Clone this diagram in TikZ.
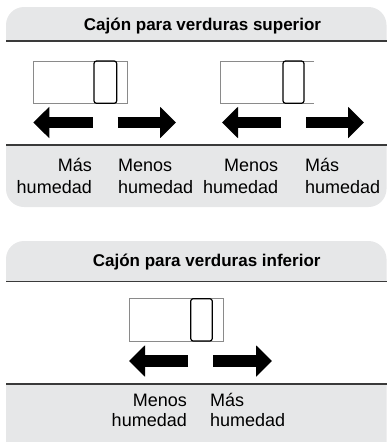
\documentclass[tikz,border=0pt]{standalone}
\usepackage{fontspec}
\setmainfont{Liberation Sans}
\usetikzlibrary{arrows.meta}
\definecolor{panelgris}{HTML}{E6E7E8}
\definecolor{lineagris}{HTML}{3A3A3A}
\definecolor{bordegris}{HTML}{8A8A8A}
\tikzset{
  panel/.style={fill=panelgris,rounded corners=18pt},
  sep/.style={draw=lineagris,line width=1.1pt},
  cajon/.style={draw=bordegris,line width=0.7pt,fill=white},
  perilla/.style={draw=black,line width=1.2pt,rounded corners=2.5pt},
  flecha/.style={draw=black,line width=11.5pt,-{Triangle[length=16pt,width=30.5pt]}},
  titulo/.style={inner sep=0pt,anchor=base,font=\fontsize{17}{20}\selectfont\bfseries},
  etiq/.style={inner sep=0pt,text depth=0pt,font=\fontsize{18}{#1}\selectfont},
  etiq/.default=21.5
}
\begin{document}
\begin{tikzpicture}[x=1pt,y=-1pt]
\clip (0,0) rectangle (388,442);
% cajon superior
\fill[panel] (6,7) rectangle (386.5,207);
\fill[white] (6,41) rectangle (386.5,145);
\draw[sep] (6,41) -- (386.5,41);
\draw[sep] (6,145) -- (386.5,145);
\node[titulo] (tsup) at (202.5,30.7) {Cajón para verduras superior};
\filldraw[cajon] (33.3,61) rectangle (127.3,103.3);
\draw[perilla] (94,61) rectangle (116.7,103.3);
\filldraw[cajon] (314,61) -- (220,61) -- (220,103.3) -- (314,103.3);
\draw[perilla] (283,61) rectangle (304,103.3);
\draw[flecha] (92.7,122.5) -- (33.3,122.5);
\draw[flecha] (117.7,122.5) -- (176,122.5);
\draw[flecha] (281,122.5) -- (222,122.5);
\draw[flecha] (306,122.5) -- (364,122.5);
\node[etiq,align=right,anchor=south east] (masa) at (92,193.3) {Más\\humedad};
\node[etiq,align=left,anchor=south west] (menosa) at (118,193.3) {Menos\\humedad};
\node[etiq,align=right,anchor=south east] (menosb) at (278.3,193.3) {Menos\\humedad};
\node[etiq,align=left,anchor=south west] (masb) at (305,193.3) {Más\\humedad};
% cajon inferior
\fill[panel] (6,241) rectangle (386.5,460);
\fill[white] (6,281.7) rectangle (386.5,384);
\draw[sep] (6,281.7) -- (386.5,281.7);
\draw[sep] (6,384) -- (386.5,384);
\node[titulo] (tinf) at (206.7,266.7) {Cajón para verduras inferior};
\filldraw[cajon] (129,298.7) rectangle (223.3,341);
\draw[perilla] (190.7,298.7) rectangle (212.3,341);
\draw[flecha] (188,361) -- (129,361);
\draw[flecha] (213,361) -- (272,361);
\node[etiq=20,align=right,anchor=south east] (menosc) at (187,426.7) {Menos\\humedad};
\node[etiq=20,align=left,anchor=south west] (masc) at (210,426.7) {Más\\humedad};
\end{tikzpicture}
\end{document}
